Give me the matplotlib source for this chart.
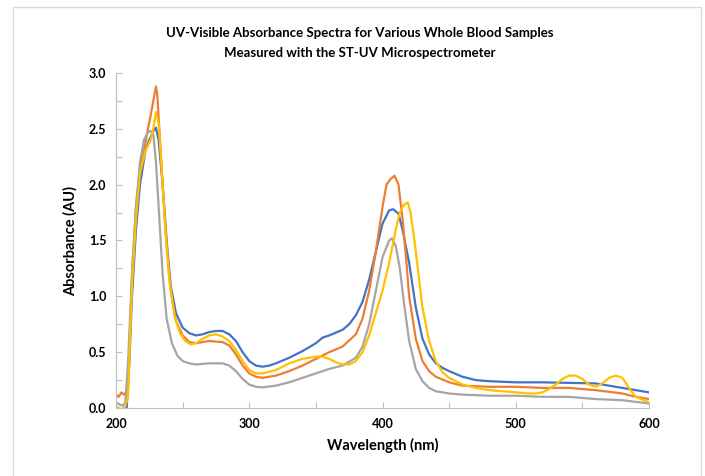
import numpy as np
import matplotlib.pyplot as plt
from matplotlib.patches import Rectangle

# Wavelength (nm) / absorbance (AU)
wl_blue = [200, 204, 208, 210, 212, 215, 218, 222, 225, 228, 230, 232, 235, 238, 241, 245,
           250, 255, 260, 265, 270, 275, 280, 285, 290, 295, 300, 305, 310, 315, 320, 330,
           340, 350, 355, 360, 370, 375, 380, 385, 390, 395, 400, 405, 408, 412, 415, 420,
           425, 430, 435, 440, 445, 450, 460, 470, 480, 500, 520, 540, 560, 580, 600]
ab_blue = [0.00, -0.01, 0.00, 0.40, 1.00, 1.60, 2.00, 2.30, 2.40, 2.48, 2.51, 2.40, 2.00, 1.50,
           1.10, 0.85, 0.72, 0.67, 0.65, 0.66, 0.68, 0.69, 0.69, 0.66, 0.60, 0.50, 0.42, 0.38,
           0.37, 0.38, 0.40, 0.45, 0.51, 0.58, 0.63, 0.65, 0.70, 0.75, 0.83, 0.95, 1.15, 1.40,
           1.65, 1.77, 1.78, 1.74, 1.60, 1.30, 0.90, 0.62, 0.48, 0.40, 0.36, 0.33, 0.28, 0.25,
           0.24, 0.23, 0.23, 0.225, 0.22, 0.18, 0.14]

wl_orange = [200, 202, 204, 206, 208, 210, 212, 215, 218, 221, 224, 226, 228, 230, 231, 233,
             235, 238, 241, 245, 250, 255, 260, 270, 280, 285, 290, 295, 300, 305, 310, 320,
             330, 340, 350, 360, 370, 380, 385, 390, 395, 400, 403, 406, 409, 412, 415, 418,
             420, 425, 430, 435, 440, 450, 460, 480, 500, 520, 540, 560, 580, 590, 600]
ab_orange = [0.12, 0.10, 0.14, 0.12, 0.15, 0.50, 1.20, 1.80, 2.15, 2.30, 2.50, 2.62, 2.75, 2.88,
             2.80, 2.40, 2.00, 1.45, 1.05, 0.78, 0.65, 0.59, 0.58, 0.60, 0.59, 0.56, 0.48, 0.38,
             0.31, 0.28, 0.27, 0.29, 0.33, 0.38, 0.44, 0.50, 0.55, 0.66, 0.80, 1.05, 1.40, 1.80,
             2.00, 2.05, 2.08, 2.00, 1.70, 1.30, 1.00, 0.62, 0.42, 0.33, 0.28, 0.23, 0.20, 0.19,
             0.19, 0.18, 0.18, 0.16, 0.13, 0.10, 0.08]

wl_gray = [200, 203, 205, 207, 209, 212, 215, 218, 221, 224, 226, 228, 230, 232, 235, 238,
           242, 246, 250, 255, 260, 270, 280, 285, 290, 295, 300, 305, 310, 320, 330, 340,
           350, 360, 370, 380, 385, 390, 395, 400, 405, 407, 410, 413, 416, 420, 425, 430,
           435, 440, 450, 460, 480, 500, 520, 540, 560, 580, 600]
ab_gray = [0.05, 0.03, 0.02, 0.05, 0.40, 1.20, 1.80, 2.20, 2.40, 2.47, 2.48, 2.45, 2.20, 1.80,
           1.20, 0.80, 0.58, 0.47, 0.42, 0.40, 0.39, 0.40, 0.40, 0.38, 0.33, 0.26, 0.21, 0.19,
           0.185, 0.20, 0.23, 0.27, 0.31, 0.35, 0.38, 0.45, 0.55, 0.75, 1.05, 1.35, 1.50, 1.52,
           1.45, 1.25, 0.95, 0.60, 0.35, 0.24, 0.18, 0.15, 0.13, 0.12, 0.11, 0.11, 0.10, 0.10,
           0.08, 0.07, 0.04]

wl_yellow = [200, 203, 206, 209, 212, 215, 218, 222, 226, 228, 230, 232, 234, 237, 240, 244,
             248, 252, 256, 260, 265, 270, 275, 280, 285, 290, 295, 300, 305, 310, 320, 330,
             340, 350, 355, 360, 365, 370, 375, 380, 385, 390, 395, 400, 405, 410, 413, 416,
             419, 421, 424, 427, 430, 435, 440, 445, 450, 460, 470, 480, 490, 500, 510, 515,
             520, 525, 530, 535, 540, 545, 550, 555, 560, 565, 570, 575, 580, 585, 590, 600]
ab_yellow = [0.02, -0.01, -0.02, 0.10, 1.10, 1.70, 2.10, 2.30, 2.40, 2.50, 2.65, 2.55, 2.20,
             1.60, 1.15, 0.82, 0.67, 0.60, 0.57, 0.58, 0.62, 0.65, 0.66, 0.64, 0.60, 0.52, 0.42,
             0.34, 0.31, 0.31, 0.34, 0.40, 0.44, 0.46, 0.46, 0.44, 0.41, 0.39, 0.39, 0.42, 0.50,
             0.65, 0.85, 1.05, 1.30, 1.60, 1.75, 1.82, 1.84, 1.75, 1.50, 1.20, 0.90, 0.60, 0.42,
             0.32, 0.27, 0.21, 0.18, 0.16, 0.15, 0.14, 0.13, 0.13, 0.14, 0.17, 0.21, 0.26, 0.29,
             0.29, 0.26, 0.21, 0.19, 0.22, 0.27, 0.29, 0.27, 0.18, 0.10, 0.05]

series = [
    (wl_blue, ab_blue, '#4472C4'),
    (wl_orange, ab_orange, '#ED7D31'),
    (wl_gray, ab_gray, '#A5A5A5'),
    (wl_yellow, ab_yellow, '#FFC000'),
]

plt.rcParams['font.family'] = ['Lato', 'DejaVu Sans']

fig = plt.figure(figsize=(7.05, 4.76), dpi=100)
ax = fig.add_axes([116/705, 68/476, 533/705, 335/476])

for wl, ab, col in series:
    ax.plot(wl, ab, color=col, lw=1.6)

ax.set_xlim(200, 600)
ax.set_ylim(0, 3.0)
ax.set_xticks([200, 300, 400, 500, 600])
ax.set_xticks([250, 350, 450, 550], minor=True)
ax.set_yticks(np.arange(0, 3.01, 0.5))
ax.set_yticks(np.arange(0.25, 3.0, 0.5), minor=True)
ax.set_yticklabels(['%.1f' % v for v in np.arange(0, 3.01, 0.5)])

for s in ['top', 'right']:
    ax.spines[s].set_visible(False)
for s in ['left', 'bottom']:
    ax.spines[s].set_color('#bfbfbf')
    ax.spines[s].set_linewidth(0.8)

ax.tick_params(which='both', direction='in', length=4, color='#bfbfbf', width=0.8)
ax.tick_params(axis='both', labelsize=9, pad=7)
for lbl in ax.get_xticklabels() + ax.get_yticklabels():
    lbl.set_fontweight('bold')

ax.set_xlabel('Wavelength (nm)', fontsize=10.5, fontweight='bold', labelpad=6)
ax.set_ylabel('Absorbance (AU)', fontsize=10.5, fontweight='bold', labelpad=8)

fig.text(0.51, 1 - 33/476, 'UV-Visible Absorbance Spectra for Various Whole Blood Samples',
         ha='center', va='center', fontsize=9.5, fontweight='bold')
fig.text(0.51, 1 - 53/476, 'Measured with the ST-UV Microspectrometer',
         ha='center', va='center', fontsize=9.5, fontweight='bold')

# light frame around the chart area
fig.patches.append(Rectangle((13/705, -0.05), 688/705, 1 - 7/476 + 0.05,
                             transform=fig.transFigure, fill=False,
                             ec='#d9d9d9', lw=1))

fig.savefig('out.png', dpi=100)
